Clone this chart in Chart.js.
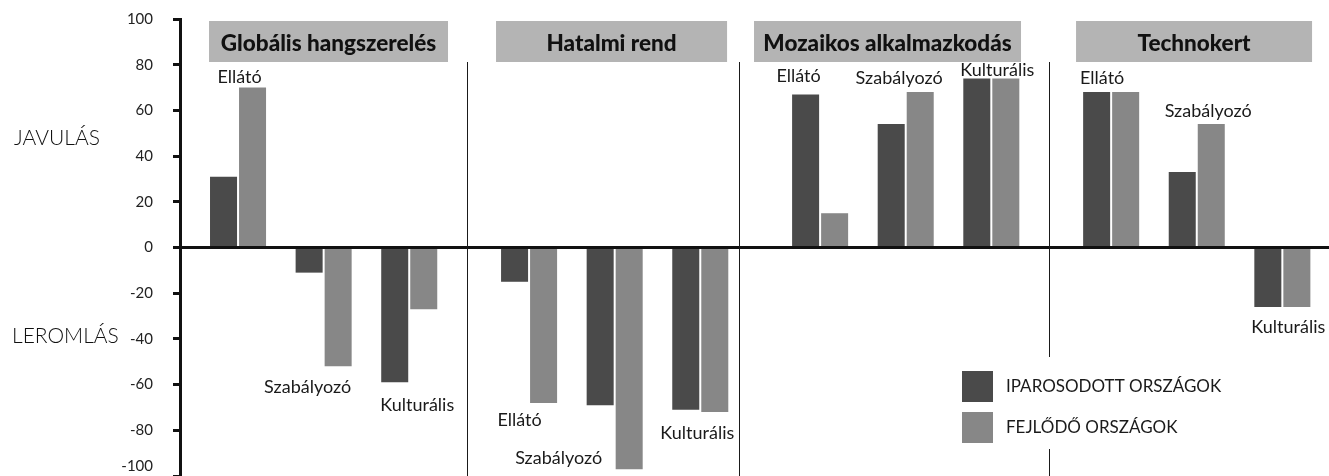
<!DOCTYPE html>
<html>
<head>
<meta charset="utf-8">
<script src="https://cdn.jsdelivr.net/npm/chart.js@4/dist/chart.umd.min.js"></script>
<style>
  html, body { margin: 0; background: #fff; }
</style>
</head>
<body>
<canvas id="scenarioChart" width="1329" height="476"></canvas>
<script>
const scenarios = ["Globális hangszerelés", "Hatalmi rend", "Mozaikos alkalmazkodás", "Technokert"];
const services = ["Ellátó", "Szabályozó", "Kulturális"];
const seriesNames = ["IPAROSODOTT ORSZÁGOK", "FEJLŐDŐ ORSZÁGOK"];
// one value per scenario x service, scenario by scenario
const industrial = [31, -11, -59,  -15, -69, -71,  67, 54, 74,  68, 33, -26];
const developing = [70, -52, -27,  -68, -97, -72,  15, 68, 74,  68, 54, -26];
const yTicks = [100, 80, 60, 40, 20, 0, -20, -40, -60, -80, -100];

// layout: x in "service slots", groups a bit wider apart
const groupStep = 3.4;
const slotOf = k => Math.floor(k / 3) * groupStep + (k % 3);
const dividers = [2.675, 5.853, 9.474];
const headerSpan = [[-0.339, 2.453], [3.014, 5.713], [6.028, 9.147], [9.790, 12.547]];
// label nudges [dx, dy] from the pair centre / bar end
const labelNudge = [
  [1.5, -10], [-16, 21], [8, 23],
  [-9.5, 17], [-56, -11], [-3, 21],
  [-21.5, -18], [-6.6, -14], [6, -8],
  [-9, -14], [11.4, -13], [6, 20]
];

const DARK = '#4a4a4a';
const LIGHT = '#878787';
const TICK_FONT = '400 15px Lato';

const overlay = {
  id: 'overlay',
  afterDatasetsDraw(chart) {
    const { ctx, scales: { x, y } } = chart;
    ctx.save();

    // section dividers
    ctx.strokeStyle = '#1a1a1a';
    ctx.lineWidth = 1;
    dividers.forEach(d => {
      const px = Math.round(x.getPixelForValue(d)) + 0.5;
      ctx.beginPath();
      ctx.moveTo(px, 62);
      ctx.lineTo(px, chart.height);
      ctx.stroke();
    });

    // scenario headers
    scenarios.forEach((name, g) => {
      const l = x.getPixelForValue(headerSpan[g][0]);
      const r = x.getPixelForValue(headerSpan[g][1]);
      ctx.fillStyle = '#b4b4b4';
      ctx.fillRect(l, 21, r - l, 41);
      ctx.fillStyle = '#111';
      ctx.font = '900 22.5px Lato';
      ctx.textAlign = 'center';
      ctx.textBaseline = 'alphabetic';
      ctx.fillText(name, (l + r) / 2, 51);
    });

    // service labels at the outer end of each pair
    const m0 = chart.getDatasetMeta(0).data;
    const m1 = chart.getDatasetMeta(1).data;
    ctx.font = '400 18px Lato';
    ctx.fillStyle = '#1a1a1a';
    ctx.textAlign = 'center';
    ctx.textBaseline = 'middle';
    industrial.forEach((v, k) => {
      const cx = x.getPixelForValue(slotOf(k));
      const up = Math.max(v, developing[k]) > 0;
      const end = up ? Math.min(m0[k].y, m1[k].y) : Math.max(m0[k].y, m1[k].y);
      const [dx, dy] = labelNudge[k];
      ctx.fillText(services[k % 3], cx + dx, end + dy);
    });

    // bottom tick label, lifted so it stays inside the canvas
    const last = yTicks[yTicks.length - 1];
    ctx.font = TICK_FONT;
    ctx.fillStyle = '#222';
    ctx.textAlign = 'right';
    ctx.fillText(String(last), x.left - 27, y.getPixelForValue(last) - 10);

    // side captions
    ctx.font = '300 21px Lato';
    ctx.fillStyle = '#111';
    ctx.textAlign = 'left';
    ctx.fillText('JAVULÁS', 14, y.getPixelForValue(48));
    ctx.fillText('LEROMLÁS', 12, y.getPixelForValue(-39));

    // legend
    ctx.fillStyle = '#fff';
    ctx.fillRect(955, 357, 300, 92);
    chart.data.datasets.forEach((ds, i) => {
      const top = 371 + i * 41;
      ctx.fillStyle = ds.backgroundColor;
      ctx.fillRect(962, top, 31, 31);
      ctx.fillStyle = '#1a1a1a';
      ctx.font = '400 17px Lato';
      ctx.textAlign = 'left';
      ctx.fillText(ds.label, 1006, top + 16);
    });

    ctx.restore();
  }
};

new Chart(document.getElementById('scenarioChart'), {
  type: 'bar',
  data: {
    datasets: [
      {
        label: seriesNames[0],
        backgroundColor: DARK,
        data: industrial.map((v, k) => ({ x: slotOf(k), y: v }))
      },
      {
        label: seriesNames[1],
        backgroundColor: LIGHT,
        data: developing.map((v, k) => ({ x: slotOf(k), y: v }))
      }
    ]
  },
  options: {
    responsive: false,
    animation: false,
    layout: { padding: { left: 0, top: 19, right: 0, bottom: -3 } },
    categoryPercentage: 0.678,
    barPercentage: 0.931,
    plugins: { legend: { display: false }, tooltip: { enabled: false } },
    scales: {
      x: {
        type: 'linear',
        display: false,
        offset: false,
        min: -0.678,
        max: 12.745
      },
      y: {
        min: -100,
        max: 100,
        afterBuildTicks: s => { s.ticks = yTicks.map(v => ({ value: v })); },
        afterFit: s => { s.width = 180; s.paddingTop = 0; s.paddingBottom = 0; },
        border: { display: true, color: '#111', width: 3 },
        grid: {
          drawOnChartArea: true,
          color: c => (c.tick && c.tick.value === 0 ? '#111' : 'rgba(0,0,0,0)'),
          lineWidth: 3,
          tickColor: '#111',
          tickLength: 7,
          tickWidth: 3
        },
        ticks: {
          padding: 20,
          color: '#222',
          font: { family: 'Lato', weight: '400', size: 15 },
          callback: v => (v === yTicks[yTicks.length - 1] ? '' : String(v))
        }
      }
    }
  },
  plugins: [overlay]
});
</script>
</body>
</html>
